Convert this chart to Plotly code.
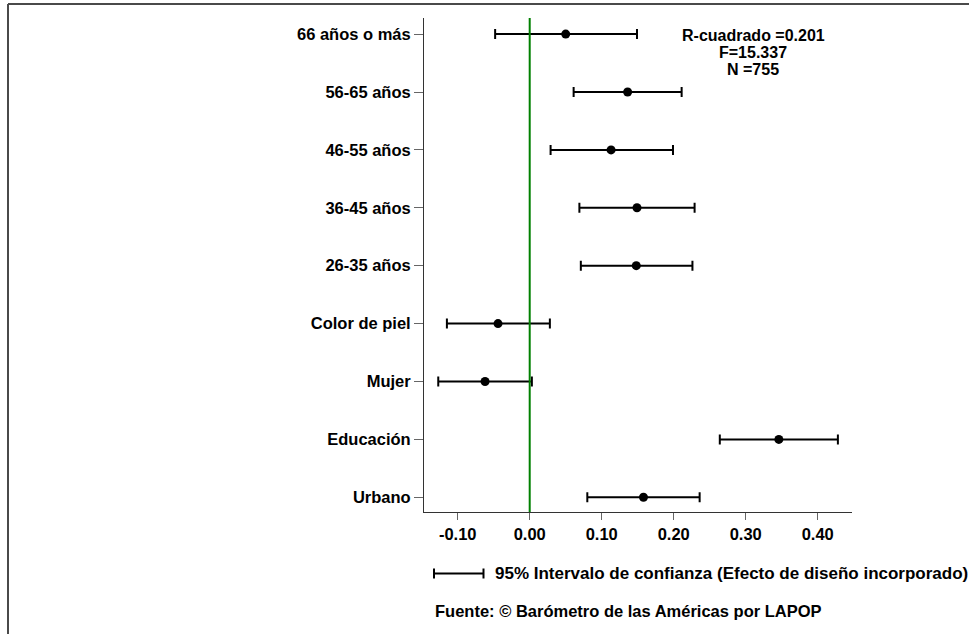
import plotly.graph_objects as go

# Data (bottom to top)
categories = ["Urbano", "Educación", "Mujer", "Color de piel", "26-35 años",
              "36-45 años", "46-55 años", "56-65 años", "66 años o más"]
coef = [0.158, 0.346, -0.062, -0.044, 0.148, 0.149, 0.113, 0.136, 0.050]
ci_low = [0.080, 0.264, -0.127, -0.115, 0.071, 0.069, 0.029, 0.061, -0.048]
ci_high = [0.236, 0.428, 0.003, 0.028, 0.226, 0.229, 0.199, 0.211, 0.149]

x_tickvals = [-0.10, 0.00, 0.10, 0.20, 0.30, 0.40]
x_ticktext = ["-0.10", "0.00", "0.10", "0.20", "0.30", "0.40"]

stats_lines = ["R-cuadrado =0.201", "F=15.337", "N =755"]
legend_text = "95% Intervalo de confianza (Efecto de diseño incorporado)"
source_text = "Fuente: © Barómetro de las Américas por LAPOP"

err_plus = [h - c for h, c in zip(ci_high, coef)]
err_minus = [c - l for c, l in zip(coef, ci_low)]

FONT = "Liberation Sans, Arial, Helvetica, sans-serif"

fig = go.Figure()
fig.add_trace(go.Scatter(
    x=coef, y=categories, mode="markers",
    marker=dict(color="black", size=9),
    error_x=dict(type="data", symmetric=False, array=err_plus, arrayminus=err_minus,
                 color="black", thickness=2, width=5),
    showlegend=False, hoverinfo="skip",
))

W, H = 969, 634
ml, mr, mt, mb = 424, 117, 18, 122
pw, ph = W - ml - mr, H - mt - mb

def px(xp):
    return (xp - ml) / pw

def py(yp):
    return (H - mb - yp) / ph

shapes = [
    # zero reference line
    dict(type="line", xref="x", yref="paper", x0=0, x1=0, y0=0, y1=1,
         line=dict(color="#008000", width=2)),
    # outer frame (top and left)
    dict(type="line", xref="paper", yref="paper", x0=px(8), x1=px(980), y0=py(4), y1=py(4),
         line=dict(color="#4a4a4a", width=2)),
    dict(type="line", xref="paper", yref="paper", x0=px(8), x1=px(8), y0=py(4), y1=py(650),
         line=dict(color="#4a4a4a", width=2)),
    # legend key
    dict(type="line", xref="paper", yref="paper", x0=px(433.5), x1=px(484), y0=py(573.5), y1=py(573.5),
         line=dict(color="black", width=2)),
    dict(type="line", xref="paper", yref="paper", x0=px(434), x1=px(434), y0=py(568.5), y1=py(578.5),
         line=dict(color="black", width=2)),
    dict(type="line", xref="paper", yref="paper", x0=px(483.5), x1=px(483.5), y0=py(568.5), y1=py(578.5),
         line=dict(color="black", width=2)),
]

annotations = []
for txt, yy in zip(stats_lines, [35.5, 52.5, 69.5]):
    annotations.append(dict(text=txt, xref="paper", yref="paper", x=px(753), y=py(yy),
                            xanchor="center", yanchor="middle", showarrow=False,
                            font=dict(size=16, color="black", family=FONT, weight="bold")))
annotations.append(dict(text=legend_text, xref="paper", yref="paper", x=px(493), y=py(573.5),
                        xanchor="left", yanchor="middle", showarrow=False,
                        font=dict(size=17, color="black", family=FONT, weight="bold")))
annotations.append(dict(text=source_text, xref="paper", yref="paper", x=px(433), y=py(610.5),
                        xanchor="left", yanchor="middle", showarrow=False,
                        font=dict(size=16.5, color="black", family=FONT, weight="bold")))

fig.update_layout(
    width=W, height=H,
    margin=dict(l=ml, r=mr, t=mt, b=mb, pad=0),
    paper_bgcolor="white", plot_bgcolor="white",
    font=dict(family=FONT, size=16.5, color="black", weight="bold"),
    shapes=shapes, annotations=annotations,
    xaxis=dict(range=[-0.1468, 0.4476], tickvals=x_tickvals, ticktext=x_ticktext,
               showgrid=False, zeroline=False, showline=True, linecolor="#333333", linewidth=1,
               ticks="outside", ticklen=7, tickcolor="#666666", tickwidth=1,
               tickfont=dict(size=16.5, family=FONT, color="black", weight="bold")),
    yaxis=dict(type="category", categoryorder="array", categoryarray=categories,
               range=[-0.254, 8.278],
               showgrid=False, zeroline=False, showline=True, linecolor="#333333", linewidth=1,
               ticks="outside", ticklen=9, tickcolor="#666666", tickwidth=1,
               tickfont=dict(size=16.5, family=FONT, color="black", weight="bold")),
)

fig.write_html("out.html", config={"displayModeBar": False},
               post_script="document.body.style.margin='0px';document.body.style.overflow='hidden';")
